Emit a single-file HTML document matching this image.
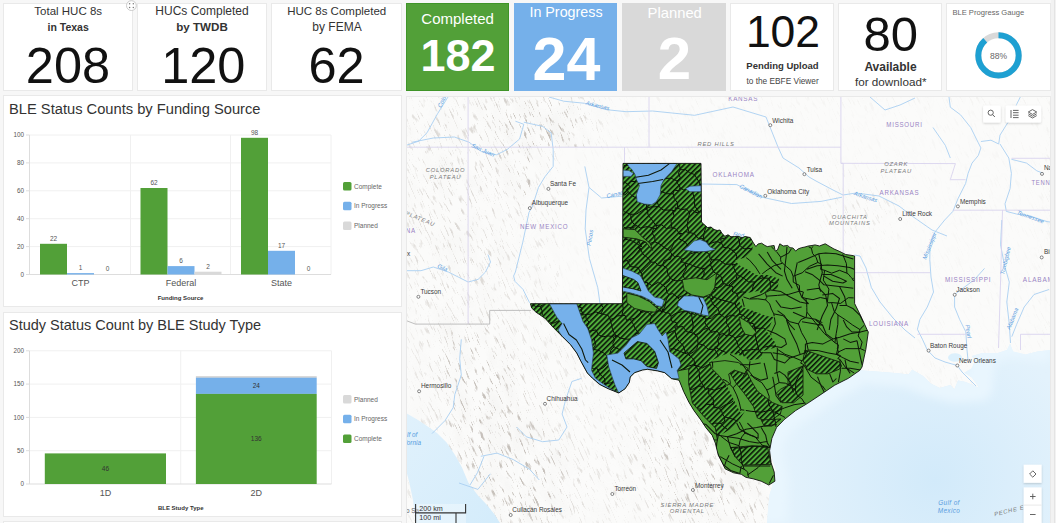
<!DOCTYPE html>
<html><head><meta charset="utf-8"><title>BLE Dashboard</title>
<style>
html,body{margin:0;padding:0;background:#f7f7f7;width:1056px;height:523px;overflow:hidden;font-family:"Liberation Sans",sans-serif;}
svg{display:block;position:absolute;left:0;top:0}
svg text{font-family:"Liberation Sans",sans-serif;}
</style></head><body>
<svg width="1056" height="523" viewBox="0 0 1056 523">
<defs>
<pattern id="hatch" patternUnits="userSpaceOnUse" width="3.7" height="3.7" patternTransform="rotate(45)">
<rect width="3.7" height="3.7" fill="#4fac3a"/>
<rect x="0" y="0" width="1.6" height="3.7" fill="#0a1608"/>
</pattern>
<clipPath id="mapclip"><rect x="406" y="97" width="644" height="426"/></clipPath>
</defs>
<rect x="0" y="0" width="1056" height="523" fill="#f7f7f7"/>

<!-- ========== TOP ROW ========== -->
<g id="top">
<rect x="3.5" y="3.5" width="129" height="87" fill="#fff" stroke="#e9e9e9"/>
<rect x="137.5" y="3.5" width="129" height="87" fill="#fff" stroke="#e9e9e9"/>
<rect x="271.5" y="3.5" width="130" height="87" fill="#fff" stroke="#e9e9e9"/>
<rect x="406" y="3" width="103" height="88" fill="#52a038"/>
<rect x="406.5" y="3.5" width="102" height="87" fill="none" stroke="#3f9428"/>
<rect x="514" y="3" width="103" height="88" fill="#75b0ea"/>
<rect x="622" y="3" width="104" height="88" fill="#d9d9d9"/>
<rect x="730.5" y="3.5" width="103" height="87" fill="#fff" stroke="#e9e9e9"/>
<rect x="838.5" y="3.5" width="103" height="87" fill="#fff" stroke="#e9e9e9"/>
<rect x="946.5" y="3.5" width="104" height="87" fill="#fff" stroke="#e9e9e9"/>

<g fill="#333" text-anchor="middle">
<text x="68.2" y="14.8" font-size="11.5">Total HUC 8s</text>
<text x="68.2" y="30.6" font-size="10.5" font-weight="bold">in Texas</text>
<text x="68" y="83" font-size="50.5" fill="#111">208</text>
<text x="202" y="14.8" font-size="12">HUCs Completed</text>
<text x="202" y="30.6" font-size="11.6" font-weight="bold">by TWDB</text>
<text x="203.3" y="83" font-size="50.5" fill="#111">120</text>
<text x="336.7" y="14.8" font-size="11.5">HUC 8s Completed</text>
<text x="337" y="30.6" font-size="12">by FEMA</text>
<text x="336.5" y="83" font-size="50.5" fill="#111">62</text>
</g>
<g fill="#fff" text-anchor="middle">
<text x="457.6" y="24" font-size="15">Completed</text>
<text x="458" y="71" font-size="45" font-weight="bold">182</text>
<text x="566" y="17" font-size="14.3">In Progress</text>
<text x="566.5" y="79.8" font-size="61" font-weight="bold">24</text>
<text x="674.7" y="17.8" font-size="14.8">Planned</text>
<text x="674.5" y="79" font-size="60" font-weight="bold">2</text>
</g>
<g fill="#111" text-anchor="middle">
<text x="783" y="47.3" font-size="44.5">102</text>
<text x="782.5" y="68.8" font-size="9.5" font-weight="bold" fill="#333">Pending Upload</text>
<text x="782.6" y="83.5" font-size="8.3" fill="#444">to the EBFE Viewer</text>
<text x="890.7" y="50.6" font-size="49">80</text>
<text x="890.5" y="70.9" font-size="12" font-weight="bold" fill="#333">Available</text>
<text x="890.7" y="85.5" font-size="11.7" fill="#333">for download*</text>
</g>
<text x="952.4" y="14.6" font-size="7.6" fill="#666">BLE Progress Gauge</text>
<circle cx="998.5" cy="55.4" r="20.2" fill="none" stroke="#d9d9d9" stroke-width="6"/>
<circle cx="998.5" cy="55.4" r="20.2" fill="none" stroke="#1ea0d2" stroke-width="6" stroke-dasharray="111.7 200" transform="rotate(-90 998.5 55.4)"/>
<text x="998.5" y="58.6" font-size="8.5" fill="#666" text-anchor="middle">88%</text>
<!-- small move icon -->
<circle cx="131.4" cy="5.6" r="4.9" fill="#fff" stroke="#c4c4c4" stroke-width="0.9"/><g fill="#7a7a7a"><circle cx="129.6" cy="3.8" r="0.75"/><circle cx="133.3" cy="3.8" r="0.75"/><circle cx="129.6" cy="7.4" r="0.75"/><circle cx="133.3" cy="7.4" r="0.75"/></g>
</g>

<!-- ========== CHART 1 ========== -->
<g id="chart1">
<rect x="3.5" y="95.5" width="398" height="211" fill="#fff" stroke="#e9e9e9"/>
<text x="9" y="114.2" font-size="14.7" fill="#333">BLE Status Counts by Funding Source</text>
<g stroke="#f0f0f0" stroke-width="1">
<line x1="29.5" y1="135" x2="331" y2="135"/>
<line x1="29.5" y1="162.9" x2="331" y2="162.9"/>
<line x1="29.5" y1="190.8" x2="331" y2="190.8"/>
<line x1="29.5" y1="218.7" x2="331" y2="218.7"/>
<line x1="29.5" y1="246.6" x2="331" y2="246.6"/>
<line x1="130.5" y1="135" x2="130.5" y2="274.5"/>
<line x1="230.5" y1="135" x2="230.5" y2="274.5"/>
<line x1="331" y1="135" x2="331" y2="274.5"/>
</g>
<g stroke="#ddd" stroke-width="1">
<line x1="29.5" y1="135" x2="29.5" y2="274.5"/>
<line x1="26" y1="274.5" x2="331" y2="274.5"/>
<line x1="26" y1="135" x2="29.5" y2="135"/>
<line x1="26" y1="162.9" x2="29.5" y2="162.9"/>
<line x1="26" y1="190.8" x2="29.5" y2="190.8"/>
<line x1="26" y1="218.7" x2="29.5" y2="218.7"/>
<line x1="26" y1="246.6" x2="29.5" y2="246.6"/>
</g>
<g font-size="6.3" fill="#555" text-anchor="end">
<text x="24" y="137">100</text>
<text x="24" y="165">80</text>
<text x="24" y="193">60</text>
<text x="24" y="221">40</text>
<text x="24" y="249">20</text>
<text x="24" y="277">0</text>
</g>
<g>
<rect x="40" y="243.8" width="27" height="30.7" fill="#52a038"/>
<rect x="67" y="273.1" width="27" height="1.4" fill="#75b0ea"/>
<rect x="140.5" y="188" width="27" height="86.5" fill="#52a038"/>
<rect x="167.5" y="266.1" width="27" height="8.4" fill="#75b0ea"/>
<rect x="194.5" y="271.7" width="27" height="2.8" fill="#d9d9d9"/>
<rect x="241" y="137.8" width="27" height="136.7" fill="#52a038"/>
<rect x="268" y="250.8" width="27" height="23.7" fill="#75b0ea"/>
</g>
<g font-size="6.5" fill="#555" text-anchor="middle">
<text x="53.5" y="240.8">22</text>
<text x="80.5" y="270">1</text>
<text x="107.5" y="270.5">0</text>
<text x="154" y="185">62</text>
<text x="181" y="263">6</text>
<text x="208" y="269">2</text>
<text x="254.5" y="134.8">98</text>
<text x="281.5" y="248">17</text>
<text x="308.5" y="270.5">0</text>
</g>
<g font-size="9" fill="#555" text-anchor="middle">
<text x="80.5" y="286.2">CTP</text>
<text x="181" y="286.2">Federal</text>
<text x="281.5" y="286.2">State</text>
</g>
<text x="180.5" y="299.5" font-size="6" font-weight="bold" fill="#333" text-anchor="middle">Funding Source</text>
<rect x="343" y="182" width="8.5" height="8.5" rx="1.5" fill="#52a038"/>
<rect x="343" y="201.8" width="8.5" height="8.5" rx="1.5" fill="#75b0ea"/>
<rect x="343" y="221.5" width="8.5" height="8.5" rx="1.5" fill="#d9d9d9"/>
<g font-size="6.5" fill="#666">
<text x="354" y="188.6">Complete</text>
<text x="354" y="208.4">In Progress</text>
<text x="354" y="228.1">Planned</text>
</g>
</g>

<!-- ========== CHART 2 ========== -->
<g id="chart2">
<rect x="3.5" y="312.5" width="398" height="204" fill="#fff" stroke="#e9e9e9"/>
<rect x="3.5" y="521.5" width="398" height="10" fill="#fff" stroke="#e9e9e9"/>
<text x="9" y="330" font-size="14.5" fill="#333">Study Status Count by BLE Study Type</text>
<g stroke="#f0f0f0" stroke-width="1">
<line x1="29.5" y1="350.8" x2="331.5" y2="350.8"/>
<line x1="29.5" y1="384.1" x2="331.5" y2="384.1"/>
<line x1="29.5" y1="417.4" x2="331.5" y2="417.4"/>
<line x1="29.5" y1="450.7" x2="331.5" y2="450.7"/>
<line x1="180.7" y1="350.8" x2="180.7" y2="484"/>
<line x1="331.5" y1="350.8" x2="331.5" y2="484"/>
</g>
<g stroke="#ddd" stroke-width="1">
<line x1="29.5" y1="350.8" x2="29.5" y2="484"/>
<line x1="26" y1="484" x2="331.5" y2="484"/>
<line x1="26" y1="350.8" x2="29.5" y2="350.8"/>
<line x1="26" y1="384.1" x2="29.5" y2="384.1"/>
<line x1="26" y1="417.4" x2="29.5" y2="417.4"/>
<line x1="26" y1="450.7" x2="29.5" y2="450.7"/>
</g>
<g font-size="6.3" fill="#555" text-anchor="end">
<text x="24" y="353">200</text>
<text x="24" y="386.3">150</text>
<text x="24" y="419.6">100</text>
<text x="24" y="452.9">50</text>
<text x="24" y="486.2">0</text>
</g>
<rect x="44.8" y="453.4" width="121.2" height="30.6" fill="#52a038"/>
<rect x="195.9" y="376" width="120.8" height="2" fill="#d9d9d9"/>
<rect x="195.9" y="377.7" width="120.8" height="16.2" fill="#75b0ea"/>
<rect x="195.9" y="393.9" width="120.8" height="90.1" fill="#52a038"/>
<g font-size="6.5" fill="#333" text-anchor="middle">
<text x="105.4" y="470.8">46</text>
<text x="256.3" y="440.8">136</text>
<text x="256.3" y="387.6">24</text>
</g>
<g font-size="9" fill="#555" text-anchor="middle">
<text x="105.4" y="495.7">1D</text>
<text x="256.3" y="495.7">2D</text>
</g>
<text x="180.7" y="509.5" font-size="6" font-weight="bold" fill="#333" text-anchor="middle">BLE Study Type</text>
<rect x="343" y="395" width="8.5" height="8.5" rx="1.5" fill="#d9d9d9"/>
<rect x="343" y="414.8" width="8.5" height="8.5" rx="1.5" fill="#75b0ea"/>
<rect x="343" y="434.6" width="8.5" height="8.5" rx="1.5" fill="#52a038"/>
<g font-size="6.5" fill="#666">
<text x="354" y="401.6">Planned</text>
<text x="354" y="421.4">In Progress</text>
<text x="354" y="441.2">Complete</text>
</g>
</g>

<!-- ========== MAP ========== -->
<g id="map" clip-path="url(#mapclip)">
<rect x="406" y="97" width="644" height="426" fill="#f6f6f4"/>
<defs>
<radialGradient id="gulfg" cx="935" cy="480" r="150" gradientUnits="userSpaceOnUse">
<stop offset="0" stop-color="#d2eafa"/><stop offset="1" stop-color="#e3f2fc"/></radialGradient>
<linearGradient id="gcalg" x1="0" y1="0" x2="1" y2="1"><stop offset="0" stop-color="#e0f1fc"/><stop offset="1" stop-color="#d4ecfb"/></linearGradient>
<filter id="terr" x="-400" y="-400" width="2200" height="1400" filterUnits="userSpaceOnUse">
<feTurbulence type="fractalNoise" baseFrequency="0.6 0.085" numOctaves="3" seed="11" result="n"/>
<feColorMatrix in="n" type="matrix" values="0 0 0 0 0.48  0 0 0 0 0.44  0 0 0 0 0.40  0 0 0 -6.0 2.55"/>
</filter>
<filter id="terrA" x="-400" y="-400" width="2200" height="1400" filterUnits="userSpaceOnUse">
<feTurbulence type="fractalNoise" baseFrequency="0.06 0.03" numOctaves="2" seed="4" result="n"/>
<feColorMatrix in="n" type="matrix" values="0 0 0 0 0.55  0 0 0 0 0.53  0 0 0 0 0.50  0 0 0 -1.2 0.75"/>
</filter>
<filter id="blur8"><feGaussianBlur stdDeviation="12"/></filter>
<filter id="blur4"><feGaussianBlur stdDeviation="4"/></filter>
<clipPath id="gulfclip"><polygon points="850,368 859.9,370.3 879.3,371.7 895,373 908.5,374.6 912.2,369.8 923,375.9 930.6,383.5 939.8,388.1 950.5,385 954.3,389.6 958.1,380.5 965.7,382 979.5,388.1 971.9,377.4 964.2,372.8 971.9,368.2 974.9,360.6 971.9,356 982.6,352.9 997.9,352.9 1007,349.9 1010,343.8 1013,351.4 1025.4,354.5 1037.6,351.4 1051,349.9 1051,523 767,523 768.5,505 769.5,495 772,487 776,470 766,440 780,410 850,370"/></clipPath>
<mask id="terrmask" maskUnits="userSpaceOnUse" x="406" y="97" width="644" height="426">
<rect x="406" y="97" width="644" height="426" fill="#222"/>
<g filter="url(#blur8)">
<polygon points="406,97 480,97 500,150 520,300 406,300" fill="#707070"/>
<polygon points="485,97 585,97 580,150 570,210 525,215 505,150" fill="#d8d8d8"/>
<polygon points="590,97 700,97 700,147 600,147" fill="#151515"/>
<polygon points="406,300 640,300 700,390 770,480 770,523 406,523" fill="#484848"/>
<polygon points="440,330 490,330 560,460 565,523 480,523 450,420" fill="#c8c8c8"/>
<polygon points="640,430 700,430 760,500 760,523 670,523" fill="#b0b0b0"/>
<polygon points="700,97 1050,97 1050,370 860,370 860,250 700,250" fill="#101010"/>
<ellipse cx="860" cy="205" rx="35" ry="25" fill="#444"/>
</g>
<rect x="560" y="147" width="62" height="156" fill="#101010"/>
<rect x="530" y="147" width="30" height="156" fill="#404040"/>
</mask>
</defs>
<rect x="406" y="97" width="644" height="426" fill="#fbfbfa"/>
<g mask="url(#terrmask)"><g transform="rotate(-24 700 300)"><rect x="-200" y="-300" width="1800" height="1200" filter="url(#terrA)" opacity="0.22"/><rect x="-200" y="-300" width="1800" height="1200" filter="url(#terr)"/></g></g>
<polygon points="850.0,368.0 859.9,370.3 879.3,371.7 895.0,373.0 908.5,374.6 912.2,369.8 923.0,375.9 930.6,383.5 939.8,388.1 950.5,385.0 954.3,389.6 958.1,380.5 965.7,382.0 979.5,388.1 971.9,377.4 964.2,372.8 971.9,368.2 974.9,360.6 971.9,356.0 982.6,352.9 997.9,352.9 1007.0,349.9 1010.0,343.8 1013.0,351.4 1025.4,354.5 1037.6,351.4 1051.0,349.9 1051.0,523.0 767.0,523.0 768.5,505.0 769.5,495.0 772.0,487.0 776.0,470.0 766.0,440.0 780.0,410.0 850.0,370.0" fill="url(#gulfg)"/>
<g clip-path="url(#gulfclip)"><polyline points="774.0,523.0 775.0,481.0 771.0,463.0 769.6,450.6 771.9,438.3 776.5,427.6 784.2,419.6 795.7,410.5 807.2,403.6 821.0,394.4 834.7,385.2 848.4,378.3 859.9,370.3 879.3,371.7 908.5,374.6 930.6,383.5 954.3,389.6 979.5,388.1 982.6,352.9 1010.0,343.8 1051.0,349.9" fill="none" stroke="#e9f6fe" stroke-width="26" stroke-linejoin="round" filter="url(#blur4)"/></g>
<polygon points="406.0,413.0 418.0,420.0 430.0,428.0 437.0,433.0 446.6,442.5 455.0,455.0 462.0,467.5 468.5,483.0 478.0,495.6 487.0,505.0 495.0,515.0 500.0,523.0 416.0,523.0 413.0,500.0 409.4,483.0 406.0,470.0" fill="url(#gcalg)"/>
<ellipse cx="955" cy="357.5" rx="7" ry="4.3" fill="#dcf0fc"/>
<g fill="none" stroke="#a9cff2" stroke-width="0.9" stroke-linejoin="round">
<polyline points="448.0,97.0 437.5,113.8 427.0,132.8 418.6,141.2 406.0,145.4"/>
<polyline points="412.3,142.2 433.3,138.0 454.4,137.0 469.0,142.2 481.7,151.7 496.4,154.8 507.0,149.6 519.6,139.0 523.8,124.3 515.4,121.2"/>
<polyline points="523.8,122.2 542.7,126.4 551.1,132.8 553.2,149.6 553.2,166.4 544.8,176.9 538.5,187.4 532.2,207.0 529.0,212.3 522.8,242.1 515.4,272.0 513.6,276.0 515.0,281.4 523.0,289.4 529.6,302.8"/>
<polyline points="549.0,97.0 563.7,101.2 584.8,103.3 605.8,109.6 626.0,111.7 652.5,111.0 694.6,115.3 733.0,107.0 766.0,117.0 778.0,147.0 783.0,158.0 799.0,168.0 809.0,177.0 816.0,181.0 833.0,190.0 843.0,195.0 856.0,193.0 879.0,196.0 899.0,206.0 912.0,216.0 932.0,230.0 947.0,236.0"/>
<polyline points="584.8,166.4 589.0,187.4 586.0,210.0 585.2,228.9 589.4,258.4 597.8,287.8 600.0,303.7"/>
<polyline points="589.0,187.4 601.6,198.0 626.0,195.8"/>
<polyline points="701.0,184.0 736.8,184.6 762.0,197.2 791.5,203.5 821.0,201.4 842.0,197.2"/>
<polyline points="406.0,270.7 421.0,270.7 433.3,267.0 448.3,272.0 458.2,277.0 468.1,282.0 478.1,279.4 485.5,272.0 490.5,262.0 488.0,254.6"/>
<polyline points="854.4,255.0 860.0,256.0 866.0,268.0 871.4,287.6 880.0,302.0 893.0,318.0 905.0,330.0 915.0,338.0"/>
<polyline points="949.0,97.0 950.3,107.2 960.5,114.8 970.7,127.5 978.3,142.8 980.9,147.9 978.3,155.5 972.0,163.1 968.1,173.3 965.6,183.5 958.0,198.7 952.9,211.4 944.7,220.0 935.0,232.0 930.0,245.0 929.8,259.7 931.0,277.0 933.5,292.0 927.3,307.0 919.9,319.4 917.4,329.3 922.4,339.2 927.3,350.0 935.0,358.0 945.0,362.0 957.3,365.5 962.0,372.0 970.0,380.0 976.0,386.0"/>
<polyline points="459.0,483.0 477.9,489.4 490.4,473.8"/>
<polyline points="980.9,141.5 991.0,140.2 998.7,144.0 1000.0,135.1 1006.3,125.0 1011.4,117.3 1016.5,104.6 1020.3,97.0"/>
<polyline points="1000.0,144.0 1008.8,158.0 1011.4,173.3 1010.1,188.6 1005.0,203.8 1006.3,211.4 1016.5,214.0 1031.7,216.5 1047.0,221.6 1050.0,222.0"/>
<polyline points="1011.4,159.3 1026.6,163.1 1036.8,170.8 1043.2,173.3"/>
<polyline points="933.0,127.5 945.3,145.3 950.3,158.0"/>
<polyline points="984.5,268.4 974.5,279.6 954.6,294.5 954.6,307.0 959.6,319.4 965.8,331.8 967.0,350.0 968.0,360.0"/>
<polyline points="1001.8,220.0 1000.6,244.8 1004.3,264.7 1009.3,282.1 1006.8,302.0 1009.3,324.3 1010.5,343.0"/>
<polyline points="1049.0,289.5 1034.0,294.5 1024.2,307.0 1016.7,324.3 1011.8,336.7"/>
<polyline points="461.3,339.3 459.7,358.8 461.3,375.0 454.8,394.6 453.2,407.6 445.0,420.6 432.0,433.6"/>
<polyline points="581.6,378.3 571.9,381.5 565.3,401.0 562.1,414.0 567.0,427.0 558.8,440.0 542.6,441.7 526.3,436.8 516.6,427.0"/>
<polyline points="480.8,456.3 497.0,453.1 513.3,459.6 529.6,469.3 539.3,480.0"/>
<polyline points="484.0,456.3 477.5,472.6 470.0,485.0"/>
<polyline points="870.0,97.0 885.0,110.0 900.0,105.0 915.0,98.0"/>
</g>
<g fill="none" stroke="#d9d4ee" stroke-width="0.9">
<polyline points="468.1,97.0 468.1,324.1"/>
<polyline points="406.0,147.2 624.5,147.2"/>
<polyline points="624.5,147.2 840.9,147.2"/>
<polyline points="624.5,147.2 624.5,163.4"/>
<polyline points="840.9,97.0 840.9,163.3 843.2,163.3 843.2,253.0"/>
<polyline points="840.9,163.3 955.4,163.6 950.3,179.7 965.6,179.7"/>
<polyline points="854.6,272.7 930.0,272.7"/>
<polyline points="952.9,210.2 1050.0,210.2"/>
<polyline points="1002.5,210.2 1000.6,280.0 998.5,348.0"/>
<polyline points="1011.6,158.3 1050.0,158.3"/>
<polyline points="917.4,334.3 965.8,334.3"/>
<polyline points="1020.5,334.3 1050.0,334.3"/>
<polyline points="1020.5,334.3 1020.5,350.0"/>
<polyline points="649.0,97.0 649.0,147.2"/>
</g>
<polyline points="406.0,320.5 415.4,324.1 489.7,324.1 489.7,310.4 531.0,310.4" fill="none" stroke="#b8b8b8" stroke-width="0.9"/>
<g font-size="7.2" fill="#9a84c4" letter-spacing="0.9">
<text x="728.2" y="100.5" textLength="30" lengthAdjust="spacingAndGlyphs">KANSAS</text>
<text x="712.6" y="177.2" textLength="42.1" lengthAdjust="spacingAndGlyphs">OKLAHOMA</text>
<text x="886.3" y="126.8" textLength="36.4" lengthAdjust="spacingAndGlyphs">MISSOURI</text>
<text x="879.6" y="195.4" textLength="39.8" lengthAdjust="spacingAndGlyphs">ARKANSAS</text>
<text x="520" y="229.3" textLength="48.4" lengthAdjust="spacingAndGlyphs">NEW MEXICO</text>
<text x="868.9" y="325.9" textLength="40" lengthAdjust="spacingAndGlyphs">LOUISIANA</text>
<text x="945" y="282.2" textLength="46.2" lengthAdjust="spacingAndGlyphs">MISSISSIPPI</text>
<text x="1022.8" y="282.2" textLength="36" lengthAdjust="spacingAndGlyphs">ALABAMA</text>
<text x="1031.5" y="184.8" textLength="42" lengthAdjust="spacingAndGlyphs">TENNESSEE</text>
<text x="383" y="232.7" textLength="33" lengthAdjust="spacingAndGlyphs">ARIZONA</text>
</g>
<g font-size="5.8" fill="#7a7a7a" font-style="italic" text-anchor="middle" letter-spacing="0.8">
<text x="445.5" y="172.2">COLORADO</text>
<text x="445.5" y="178.7">PLATEAU</text>
<text x="896.2" y="166.3">OZARK</text>
<text x="896.2" y="172.9">PLATEAU</text>
<text x="849.8" y="218.6">OUACHITA</text>
<text x="849.8" y="225.3">MOUNTAINS</text>
<text x="687.3" y="507.2">SIERRA MADRE</text>
<text x="687.3" y="513.4">ORIENTAL</text>
<text x="0" y="0" transform="translate(408,216) rotate(22)">CISCO PLATEAU</text>
<text x="716" y="145.7">RED HILLS</text>
<text x="0" y="0" transform="translate(1012,512) rotate(-14)">PECHE ES</text>
</g>
<g font-size="6.4" fill="#3a3a3a">
<text x="772.3" y="122.5">Wichita</text>
<text x="806.7" y="171.9">Tulsa</text>
<text x="767.3" y="193.8">Oklahoma City</text>
<text x="902.2" y="216.3">Little Rock</text>
<text x="959.9" y="203.7">Memphis</text>
<text x="1044" y="170">Nashville</text>
<text x="550" y="186.4">Santa Fe</text>
<text x="531.8" y="205.3">Albuquerque</text>
<text x="420.4" y="294.3">Tucson</text>
<text x="387" y="255.8">Phoenix</text>
<text x="421" y="387.8">Hermosillo</text>
<text x="546.6" y="401.3">Chihuahua</text>
<text x="614.4" y="491.3">Torreón</text>
<text x="695" y="487.8">Monterrey</text>
<text x="512.3" y="511.9">Culiacán Rosales</text>
<text x="930" y="348.3">Baton Rouge</text>
<text x="958.9" y="362.5">New Orleans</text>
<text x="956.3" y="291.8">Jackson</text>
<text x="1044" y="254">Birmingham</text>
<text x="406" y="512.9" fill="#666">o Sa</text>
</g>
<g fill="#fff" stroke="#555" stroke-width="0.7">
<circle cx="770.3" cy="125.2" r="1.5"/>
<circle cx="804.4" cy="174.2" r="1.5"/>
<circle cx="765.3" cy="195.8" r="1.5"/>
<circle cx="900.2" cy="219" r="1.5"/>
<circle cx="957.9" cy="206.4" r="1.5"/>
<circle cx="1042" cy="173.9" r="1.5"/>
<circle cx="548.4" cy="188.9" r="1.5"/>
<circle cx="529.8" cy="208.1" r="1.5"/>
<circle cx="418.4" cy="296.8" r="1.5"/>
<circle cx="385" cy="258" r="1.5"/>
<circle cx="419.1" cy="391.3" r="1.5"/>
<circle cx="545" cy="403.8" r="1.5"/>
<circle cx="612.3" cy="494" r="1.5"/>
<circle cx="692.9" cy="490" r="1.5"/>
<circle cx="510.7" cy="515" r="1.5"/>
<circle cx="928.6" cy="350.6" r="1.5"/>
<circle cx="957.3" cy="365.5" r="1.5"/>
<circle cx="954.7" cy="294.8" r="1.5"/>
<circle cx="1041.7" cy="257.4" r="1.5"/>
</g>
<g font-size="5.8" fill="#5a9de0" font-style="italic">
<text transform="translate(585.5,104.5) rotate(14)">Arkansas</text>
<text transform="translate(471,147) rotate(24)">San Juan</text>
<text transform="translate(441,108) rotate(-64)">Colorado</text>
<text transform="translate(607,198) rotate(-12)">Canadian</text>
<text transform="translate(590.5,246) rotate(-80)">Pecos</text>
<text transform="translate(437,267.5) rotate(22)">Gila</text>
<text transform="translate(739,187.5) rotate(27)">Canadian</text>
<text transform="translate(853.5,195) rotate(18)">Arkansas</text>
<text transform="translate(733,235.5) rotate(12)">Red</text>
<text transform="translate(926,260) rotate(-68)">Mississippi</text>
<text transform="translate(1016.5,214) rotate(20)">Tennessee</text>
<text transform="translate(1004,275) rotate(-76)">Tombigbee</text>
<text transform="translate(965.5,325) rotate(82)">Pearl</text>
<text transform="translate(1010,330) rotate(-68)">Alabama</text>
<text x="407" y="436.5" font-size="6.4">lf of</text>
<text x="405" y="445.4" font-size="6.4">fornia</text>
<text x="949" y="504.7" font-size="6.4" text-anchor="middle" letter-spacing="0.4">Gulf of</text>
<text x="949" y="513.2" font-size="6.4" text-anchor="middle" letter-spacing="0.4">Mexico</text>
</g>
<defs><clipPath id="txclip"><polygon points="623.0,163.4 701.0,163.4 701.5,222.0 704.0,224.5 707.6,227.6 711.0,227.0 714.0,229.5 717.2,230.5 720.0,230.0 722.0,233.5 724.9,236.3 728.0,234.8 731.0,236.8 734.7,236.5 738.2,236.3 742.0,237.8 745.0,236.5 750.2,237.5 753.6,243.2 755.9,246.6 758.0,244.0 761.6,243.2 765.0,245.5 767.3,246.6 770.7,246.0 774.1,245.5 775.2,251.1 777.5,250.0 779.8,243.8 783.2,246.0 787.7,245.5 790.0,247.7 793.0,248.0 795.7,251.1 798.0,249.0 801.4,247.7 805.0,247.0 808.2,246.0 812.0,245.5 815.0,244.9 819.5,246.0 822.0,245.0 825.2,243.8 830.9,247.2 834.0,249.0 838.9,251.1 845.7,254.5 853.6,255.7 854.6,256.0 854.6,303.5 860.8,316.0 867.0,329.6 868.3,332.0 865.8,349.5 862.0,367.0 859.9,370.3 848.4,378.3 834.7,385.2 821.0,394.4 807.2,403.6 795.7,410.5 784.2,419.6 776.5,427.6 771.9,438.3 769.6,450.6 771.1,462.8 774.2,472.0 774.9,481.2 768.8,485.0 761.2,481.2 753.5,478.9 745.9,477.3 741.3,474.3 733.6,472.8 725.2,468.9 722.2,462.8 718.3,455.2 715.3,443.0 712.2,435.3 706.0,427.8 700.9,420.0 694.0,410.6 688.8,402.0 683.7,391.6 679.1,380.2 671.6,378.7 664.7,372.7 657.9,371.0 647.5,369.3 642.4,370.1 634.6,372.7 630.3,377.0 629.3,382.5 625.1,388.8 618.8,393.0 608.3,388.8 599.9,384.6 592.5,378.3 587.3,373.0 581.0,361.5 576.7,353.0 570.4,344.6 562.0,336.2 553.6,327.8 545.2,318.4 535.8,312.0 531.6,307.9 530.5,303.7 622.4,303.7"/></clipPath></defs>
<polygon points="623.0,163.4 701.0,163.4 701.5,222.0 704.0,224.5 707.6,227.6 711.0,227.0 714.0,229.5 717.2,230.5 720.0,230.0 722.0,233.5 724.9,236.3 728.0,234.8 731.0,236.8 734.7,236.5 738.2,236.3 742.0,237.8 745.0,236.5 750.2,237.5 753.6,243.2 755.9,246.6 758.0,244.0 761.6,243.2 765.0,245.5 767.3,246.6 770.7,246.0 774.1,245.5 775.2,251.1 777.5,250.0 779.8,243.8 783.2,246.0 787.7,245.5 790.0,247.7 793.0,248.0 795.7,251.1 798.0,249.0 801.4,247.7 805.0,247.0 808.2,246.0 812.0,245.5 815.0,244.9 819.5,246.0 822.0,245.0 825.2,243.8 830.9,247.2 834.0,249.0 838.9,251.1 845.7,254.5 853.6,255.7 854.6,256.0 854.6,303.5 860.8,316.0 867.0,329.6 868.3,332.0 865.8,349.5 862.0,367.0 859.9,370.3 848.4,378.3 834.7,385.2 821.0,394.4 807.2,403.6 795.7,410.5 784.2,419.6 776.5,427.6 771.9,438.3 769.6,450.6 771.1,462.8 774.2,472.0 774.9,481.2 768.8,485.0 761.2,481.2 753.5,478.9 745.9,477.3 741.3,474.3 733.6,472.8 725.2,468.9 722.2,462.8 718.3,455.2 715.3,443.0 712.2,435.3 706.0,427.8 700.9,420.0 694.0,410.6 688.8,402.0 683.7,391.6 679.1,380.2 671.6,378.7 664.7,372.7 657.9,371.0 647.5,369.3 642.4,370.1 634.6,372.7 630.3,377.0 629.3,382.5 625.1,388.8 618.8,393.0 608.3,388.8 599.9,384.6 592.5,378.3 587.3,373.0 581.0,361.5 576.7,353.0 570.4,344.6 562.0,336.2 553.6,327.8 545.2,318.4 535.8,312.0 531.6,307.9 530.5,303.7 622.4,303.7" fill="#52a038"/>
<g clip-path="url(#txclip)">
<polygon points="500.0,150.0 752.0,150.0 752.5,250.0 744.9,257.6 735.3,260.5 739.1,265.3 746.8,269.1 756.3,274.9 767.8,274.9 779.3,278.7 777.4,289.2 767.8,291.1 762.1,294.0 758.2,291.1 746.8,293.0 742.9,295.9 739.1,301.6 742.9,307.4 754.4,311.2 765.9,316.0 773.5,316.9 769.7,326.5 765.9,330.3 774.6,341.5 776.5,347.2 763.1,351.0 761.2,358.7 747.8,360.6 745.9,356.8 728.7,353.0 719.1,356.8 711.5,360.6 711.5,368.0 719.0,376.0 727.0,386.0 740.3,412.7 745.0,411.0 738.0,422.0 730.6,429.2 719.9,435.3 713.0,440.0 500.0,440.0" fill="url(#hatch)"/>
<g fill="none" stroke="#0b1408" stroke-width="1.0" stroke-linejoin="round">
<polyline points="646.8,164.4 648.5,165.0 655.4,165.2"/>
<polyline points="656.1,164.4 655.4,165.2"/>
<polyline points="540.3,306.2 542.7,304.7"/>
<polyline points="540.3,306.2 535.8,306.5 532.4,304.7"/>
<polyline points="677.5,208.2 675.4,207.7 675.0,211.4 672.6,210.1"/>
<polyline points="677.5,208.2 677.7,202.9 674.3,198.7 673.1,193.7"/>
<polyline points="673.1,193.7 666.8,193.8 661.5,191.5 656.6,187.2"/>
<polyline points="672.6,210.1 667.8,210.1 663.0,210.0 658.9,206.5"/>
<polyline points="658.9,206.5 656.5,200.3 655.3,194.0 656.6,187.2"/>
<polyline points="586.0,368.6 587.8,367.4 592.2,368.2"/>
<polyline points="592.2,368.2 588.0,362.6 590.2,354.9 585.9,349.1"/>
<polyline points="577.6,352.6 581.7,352.0 585.9,349.1"/>
<polyline points="608.7,358.2 609.2,358.9 608.2,360.4 609.9,360.4"/>
<polyline points="608.7,358.2 604.4,353.4 599.0,350.5 592.5,349.1"/>
<polyline points="609.9,360.4 606.6,364.5 602.8,368.0 597.7,369.9"/>
<polyline points="592.5,349.1 590.6,348.3 588.5,349.1 586.5,348.7"/>
<polyline points="597.7,369.9 596.4,367.6 594.0,369.0 592.2,368.2"/>
<polyline points="586.5,348.7 587.3,350.2 586.5,349.5 585.9,349.1"/>
<polyline points="727.5,429.8 727.4,429.3 723.6,426.8 721.1,423.4"/>
<polyline points="705.0,424.4 707.8,425.4 714.4,423.1 721.1,423.4"/>
<polyline points="681.6,259.0 686.7,257.6 690.6,253.9 695.6,252.0"/>
<polyline points="681.6,259.0 678.8,256.3 674.4,256.8 671.7,253.8"/>
<polyline points="695.6,252.0 689.5,248.1 685.2,242.0 678.6,238.5"/>
<polyline points="671.7,253.8 670.8,252.9 670.6,251.7 670.0,250.6"/>
<polyline points="670.0,250.6 672.5,246.4 674.0,241.5 678.6,238.5"/>
<polyline points="677.5,208.2 681.5,209.7 686.3,208.9 689.7,212.5"/>
<polyline points="672.6,210.1 674.1,216.0 671.0,221.7 671.9,227.7"/>
<polyline points="689.7,212.5 688.3,219.1 687.0,225.7 689.2,232.5"/>
<polyline points="689.2,232.5 685.6,231.6 682.4,233.6 678.8,233.4"/>
<polyline points="671.9,227.7 675.1,228.5 677.4,230.4 678.8,233.4"/>
<polyline points="619.8,366.9 622.0,371.0 619.7,376.1 622.7,380.1"/>
<polyline points="619.8,366.9 616.4,365.1 613.4,362.5 609.9,360.4"/>
<polyline points="597.7,369.9 600.1,374.5 604.3,378.0 605.2,383.6"/>
<polyline points="605.2,383.6 611.1,382.9 616.3,378.8 622.7,380.1"/>
<polyline points="628.6,365.3 625.8,366.6 622.6,365.6 619.8,366.9"/>
<polyline points="628.6,365.3 633.5,368.1 637.3,370.8"/>
<polyline points="622.7,380.1 624.4,382.8 626.8,384.4"/>
<polyline points="587.0,326.4 589.3,331.2 596.0,329.9 598.4,334.8"/>
<polyline points="587.0,326.4 589.0,322.2 586.1,318.5 585.8,314.5"/>
<polyline points="598.4,334.8 603.0,336.8 607.9,335.9 612.8,336.5"/>
<polyline points="585.8,314.5 590.8,314.1 595.9,311.9 601.2,313.8"/>
<polyline points="601.2,313.8 604.7,314.6 608.3,315.5 610.0,319.4"/>
<polyline points="610.0,319.4 611.5,324.5 612.6,329.7 615.1,334.7"/>
<polyline points="612.8,336.5 613.3,335.5 615.6,336.8 615.1,334.7"/>
<polyline points="598.4,334.8 594.3,338.7 595.7,344.7 592.5,349.1"/>
<polyline points="608.7,358.2 609.7,354.1 610.9,350.1 614.1,346.9"/>
<polyline points="612.8,336.5 614.7,339.7 612.8,343.5 614.1,346.9"/>
<polyline points="628.6,365.3 631.5,363.0 634.1,360.5 633.9,356.3"/>
<polyline points="614.1,346.9 620.6,350.1 627.4,352.6 633.9,356.3"/>
<polyline points="601.2,313.8 603.5,307.8 601.2,304.7"/>
<polyline points="610.0,319.4 613.9,318.3 617.5,315.9 621.8,315.6"/>
<polyline points="621.8,315.6 623.3,309.2 622.6,304.7"/>
<polyline points="647.3,282.5 644.7,282.6 643.5,280.8 642.3,278.8"/>
<polyline points="647.3,282.5 647.9,287.2 647.7,291.9 647.2,296.8"/>
<polyline points="647.2,296.8 641.4,297.3 635.4,296.5 629.6,298.7"/>
<polyline points="634.5,280.2 637.5,282.2 639.9,280.5 642.3,278.8"/>
<polyline points="634.5,280.2 631.6,286.0 631.4,292.5 629.6,298.7"/>
<polyline points="540.3,306.2 542.1,311.0 542.3,315.2"/>
<polyline points="565.0,337.8 567.4,337.1 572.5,336.0 576.9,332.8"/>
<polyline points="550.3,322.6 553.9,323.1 557.8,321.1 562.1,320.5"/>
<polyline points="562.1,320.5 567.5,323.6 572.1,327.6 577.0,331.7"/>
<polyline points="577.0,331.7 574.6,331.8 575.8,332.3 576.9,332.8"/>
<polyline points="586.5,348.7 584.0,343.1 579.9,338.4 576.9,332.8"/>
<polyline points="548.7,320.9 549.8,320.3 549.6,321.8"/>
<polyline points="587.0,326.4 584.4,329.6 581.4,331.9 577.0,331.7"/>
<polyline points="681.6,383.8 682.4,384.0 683.8,388.3 687.4,389.9"/>
<polyline points="688.4,398.9 687.4,394.7 687.4,389.9"/>
<polyline points="699.5,416.3 698.3,412.8 694.3,408.7"/>
<polyline points="719.5,408.7 721.7,411.1 722.5,414.2 724.4,416.9"/>
<polyline points="719.5,408.7 717.7,407.2 714.3,407.9 713.7,404.5"/>
<polyline points="721.1,423.4 723.8,422.1 724.8,419.9 724.4,416.9"/>
<polyline points="694.3,408.7 701.1,409.1 706.7,404.3 713.7,404.5"/>
<polyline points="658.7,174.9 664.3,178.5 671.0,178.2 677.0,181.0"/>
<polyline points="658.7,174.9 656.8,172.0 654.3,169.3 655.4,165.2"/>
<polyline points="678.6,164.4 679.6,165.5 680.3,169.7"/>
<polyline points="680.3,169.7 678.4,173.2 680.3,177.8 677.0,181.0"/>
<polyline points="673.1,193.7 673.9,190.0 678.5,190.8 680.0,187.8"/>
<polyline points="689.7,212.5 692.6,210.1 695.9,212.6 699.0,212.0"/>
<polyline points="699.0,212.0 694.7,206.0 694.4,198.8 692.5,191.8"/>
<polyline points="692.5,191.8 689.1,188.1 683.9,190.1 680.0,187.8"/>
<polyline points="658.7,174.9 655.0,177.3 655.2,181.5 654.1,185.2"/>
<polyline points="656.6,187.2 656.7,185.4 654.2,186.7 654.1,185.2"/>
<polyline points="680.0,187.8 679.3,185.4 677.3,183.6 677.0,181.0"/>
<polyline points="605.2,383.6 604.0,383.4 605.2,384.4 604.7,384.6"/>
<polyline points="603.2,385.1 604.7,384.6"/>
<polyline points="694.0,408.6 694.3,408.7"/>
<polyline points="621.8,315.6 625.2,315.5 626.4,320.3 630.2,319.4"/>
<polyline points="623.4,297.5 626.4,296.0 629.6,298.7"/>
<polyline points="629.6,298.7 634.9,302.1 637.8,307.4 641.2,312.5"/>
<polyline points="630.2,319.4 634.6,318.3 638.5,316.4 641.2,312.5"/>
<polyline points="647.2,296.8 650.1,303.2 655.9,306.8 661.3,311.0"/>
<polyline points="661.3,311.0 657.2,311.0 654.5,313.6 651.5,315.9"/>
<polyline points="651.5,315.9 648.8,312.8 645.5,311.4 641.2,312.5"/>
<polyline points="556.1,304.7 559.6,310.4 564.3,315.9"/>
<polyline points="575.2,304.7 579.7,307.1"/>
<polyline points="564.3,315.9 570.5,314.6 576.9,315.0 583.1,312.5"/>
<polyline points="583.1,312.5 581.2,311.2 582.2,308.1 579.7,307.1"/>
<polyline points="562.1,320.5 561.6,318.4 561.4,316.5 564.3,315.9"/>
<polyline points="580.5,304.7 579.7,307.1"/>
<polyline points="585.8,314.5 584.5,314.3 582.6,315.2 583.1,312.5"/>
<polyline points="633.6,164.4 633.7,164.6"/>
<polyline points="624.0,165.5 625.3,165.5 633.7,164.6"/>
<polyline points="654.1,185.2 653.5,187.6 653.5,185.0 653.3,185.1"/>
<polyline points="653.3,185.1 648.1,182.7 642.8,180.5 637.3,178.3"/>
<polyline points="633.7,164.6 633.5,169.5 637.3,173.3 637.3,178.3"/>
<polyline points="655.9,225.6 656.6,227.7 656.1,228.7 653.7,228.2"/>
<polyline points="655.9,225.6 652.2,220.2 648.1,215.0 646.9,208.1"/>
<polyline points="653.7,228.2 647.5,226.5 640.6,228.0 634.5,224.5"/>
<polyline points="646.9,208.1 645.8,209.9 646.1,208.7 646.3,207.8"/>
<polyline points="646.3,207.8 641.5,210.8 636.8,213.9 630.8,214.4"/>
<polyline points="630.8,214.4 630.9,218.2 631.7,221.6 634.5,224.5"/>
<polyline points="670.0,250.6 664.8,247.9 660.2,244.3 654.8,241.8"/>
<polyline points="671.9,227.7 666.4,228.5 661.5,224.7 655.9,225.6"/>
<polyline points="678.8,233.4 680.9,235.2 679.8,236.8 678.6,238.5"/>
<polyline points="654.8,241.8 654.9,237.3 652.0,233.0 653.7,228.2"/>
<polyline points="658.9,206.5 654.9,206.8 650.9,206.9 646.9,208.1"/>
<polyline points="654.8,241.8 650.2,243.3 645.0,242.1 640.6,244.9"/>
<polyline points="640.6,244.9 637.3,239.3 634.8,233.5 632.6,227.2"/>
<polyline points="632.6,227.2 634.5,227.2 635.1,226.3 634.5,224.5"/>
<polyline points="653.3,185.1 647.6,189.3 647.4,197.3 641.8,201.8"/>
<polyline points="641.8,201.8 643.0,204.0 646.8,204.2 646.3,207.8"/>
<polyline points="623.7,227.3 626.4,228.0 632.6,227.2"/>
<polyline points="623.8,211.4 624.9,212.0 627.8,213.1 630.8,214.4"/>
<polyline points="681.6,259.0 680.8,262.0 683.3,262.2 684.9,263.2"/>
<polyline points="695.6,252.0 699.4,253.4 703.6,250.5 707.4,253.0"/>
<polyline points="710.5,264.9 707.7,265.8 705.5,268.1 702.4,268.7"/>
<polyline points="710.5,264.9 711.4,263.3 710.4,261.2 712.0,259.8"/>
<polyline points="707.4,253.0 709.8,254.6 709.8,257.9 712.0,259.8"/>
<polyline points="684.9,263.2 690.8,264.7 696.4,267.2 702.4,268.7"/>
<polyline points="710.5,264.9 713.7,272.0 720.9,276.2 723.4,284.0"/>
<polyline points="723.4,284.0 721.1,286.8 717.8,287.3 714.4,287.7"/>
<polyline points="702.4,268.7 704.3,272.4 703.5,275.8 701.2,279.2"/>
<polyline points="714.4,287.7 711.0,283.5 704.7,283.6 701.2,279.2"/>
<polyline points="735.2,303.9 727.6,301.6 720.0,299.4 712.3,296.7"/>
<polyline points="735.2,303.9 736.5,307.4 739.8,310.0 739.6,314.3"/>
<polyline points="727.0,316.9 730.9,315.1 735.5,316.2 739.6,314.3"/>
<polyline points="727.0,316.9 724.1,317.5 722.1,315.5 719.9,314.1"/>
<polyline points="719.9,314.1 717.8,308.3 712.8,304.2 710.7,298.2"/>
<polyline points="712.3,296.7 713.1,298.7 712.9,299.5 710.7,298.2"/>
<polyline points="695.0,365.0 702.3,368.0 710.2,363.7 710.5,363.8"/>
<polyline points="695.0,365.0 699.2,371.4 699.6,379.4 703.7,386.2"/>
<polyline points="703.7,386.2 704.6,388.1 705.6,389.7 708.1,388.5"/>
<polyline points="708.1,388.5 714.6,390.2 720.7,387.9 726.1,386.5"/>
<polyline points="679.0,379.2 676.6,375.9 677.3,372.0"/>
<polyline points="694.4,364.5 688.3,366.1 682.8,368.8 677.3,372.0"/>
<polyline points="694.4,364.5 695.8,362.9 693.9,366.1 695.0,365.0"/>
<polyline points="687.4,389.9 692.9,389.1 697.9,386.2 703.7,386.2"/>
<polyline points="713.7,404.5 713.1,398.8 708.9,394.3 708.1,388.5"/>
<polyline points="719.5,408.7 725.0,405.0 731.2,402.6 733.3,400.8"/>
<polyline points="694.4,364.5 694.2,360.3 691.8,357.4 688.7,354.8"/>
<polyline points="717.7,356.4 717.6,354.1 714.5,349.2"/>
<polyline points="714.5,349.2 708.4,349.5 703.8,345.2 698.1,343.6"/>
<polyline points="688.7,354.8 693.1,352.2 696.8,349.0 698.1,343.6"/>
<polyline points="724.4,416.9 731.1,418.5 737.4,421.0"/>
<polyline points="765.4,329.4 763.7,328.1 755.4,328.4"/>
<polyline points="754.2,312.2 753.2,315.3 748.4,318.6"/>
<polyline points="748.4,318.6 749.1,322.5 753.8,323.9 754.7,327.9"/>
<polyline points="754.7,327.9 756.0,326.5 754.7,328.9 755.4,328.4"/>
<polyline points="727.0,316.9 726.4,322.9 729.6,328.5 728.8,334.7"/>
<polyline points="739.6,314.3 742.8,315.0 745.2,317.4 748.4,318.6"/>
<polyline points="734.8,338.1 733.1,336.4 730.9,335.7 728.8,334.7"/>
<polyline points="734.8,338.1 741.9,335.8 747.3,330.2 754.7,327.9"/>
<polyline points="700.1,170.7 699.0,170.8 696.4,171.8 694.5,174.5"/>
<polyline points="694.5,174.5 697.0,178.8 699.7,182.9 699.5,188.3"/>
<polyline points="699.5,188.3 700.2,188.4"/>
<polyline points="680.3,169.7 685.5,169.7 689.7,172.8 694.5,174.5"/>
<polyline points="692.5,191.8 693.9,188.9 698.0,191.2 699.5,188.3"/>
<polyline points="699.0,212.0 700.4,212.0"/>
<polyline points="689.2,232.5 694.3,233.6 697.8,238.2 703.3,238.7"/>
<polyline points="706.0,227.5 704.2,232.4 703.3,238.7"/>
<polyline points="707.4,253.0 706.2,250.2 707.6,247.4 707.7,244.6"/>
<polyline points="703.3,238.7 704.3,241.0 707.9,241.3 707.7,244.6"/>
<polyline points="604.7,384.6 605.0,386.0"/>
<polyline points="634.5,280.2 630.3,278.6 625.5,279.6 623.5,278.5"/>
<polyline points="615.1,334.7 620.9,338.3 627.2,339.2 634.1,339.0"/>
<polyline points="630.2,319.4 633.1,323.9 635.3,328.8 638.7,333.2"/>
<polyline points="634.1,339.0 637.5,338.6 635.3,333.7 638.7,333.2"/>
<polyline points="651.5,315.9 649.9,321.4 653.1,326.5 652.7,332.1"/>
<polyline points="638.7,333.2 643.4,334.0 648.0,332.5 652.7,332.1"/>
<polyline points="640.6,244.9 640.9,245.6 641.5,246.6 639.9,245.6"/>
<polyline points="623.7,239.0 624.7,239.0 632.5,241.1 639.9,245.6"/>
<polyline points="623.9,181.7 628.1,184.4"/>
<polyline points="628.4,191.9 625.1,194.9 623.9,194.9"/>
<polyline points="628.4,191.9 626.2,189.5 630.1,186.9 628.1,184.4"/>
<polyline points="637.3,178.3 635.1,181.6 630.6,181.3 628.1,184.4"/>
<polyline points="641.8,201.8 637.5,198.4 632.4,196.0 628.4,191.9"/>
<polyline points="752.6,291.0 752.4,290.4 753.0,286.2 755.1,282.0"/>
<polyline points="745.8,292.5 742.6,291.9 736.6,293.3"/>
<polyline points="755.1,282.0 748.3,281.8 743.1,277.7 737.2,274.6"/>
<polyline points="737.2,274.6 736.1,279.5 732.0,282.0 728.7,285.3"/>
<polyline points="736.6,293.3 732.6,292.0 732.9,286.6 728.7,285.3"/>
<polyline points="735.2,303.9 736.9,300.6 738.2,297.2 736.6,293.3"/>
<polyline points="736.2,263.2 736.3,263.8 735.1,264.7 732.4,264.0"/>
<polyline points="732.4,264.0 733.7,267.6 735.2,271.2 737.2,274.6"/>
<polyline points="762.7,275.9 762.9,277.9"/>
<polyline points="762.9,277.9 760.1,278.7 757.5,280.2 755.1,282.0"/>
<polyline points="723.4,284.0 725.4,283.6 726.7,285.8 728.7,285.3"/>
<polyline points="732.4,264.0 725.3,264.3 719.2,259.9 712.0,259.8"/>
<polyline points="714.4,287.7 715.3,291.1 711.0,293.2 712.3,296.7"/>
<polyline points="770.8,289.5 770.5,289.3 770.1,281.5"/>
<polyline points="777.7,282.2 775.2,283.5 770.1,281.5"/>
<polyline points="762.9,277.9 765.7,278.2 768.7,278.2 770.1,281.5"/>
<polyline points="720.0,335.0 722.8,333.1 725.9,335.6 728.8,334.7"/>
<polyline points="720.0,335.0 717.2,331.2 711.1,332.3 708.5,327.7"/>
<polyline points="719.9,314.1 715.1,314.8 711.2,318.3 706.1,318.7"/>
<polyline points="708.5,327.7 706.2,325.1 704.8,322.3 706.1,318.7"/>
<polyline points="720.0,335.0 717.6,339.0 718.6,343.9 716.6,348.1"/>
<polyline points="714.5,349.2 715.2,348.8 715.0,346.7 716.6,348.1"/>
<polyline points="698.1,343.6 697.7,340.5 697.9,337.0 694.8,334.8"/>
<polyline points="708.5,327.7 703.7,329.5 699.9,333.2 694.8,334.8"/>
<polyline points="710.7,298.2 706.4,296.5 702.0,297.0 697.5,297.3"/>
<polyline points="706.1,318.7 703.1,316.3 698.9,315.6 696.4,312.2"/>
<polyline points="697.5,297.3 697.8,302.3 698.7,307.3 696.4,312.2"/>
<polyline points="694.8,334.8 694.5,333.1 692.9,333.4 691.8,332.7"/>
<polyline points="691.8,332.7 693.2,326.1 692.2,319.5 691.5,312.7"/>
<polyline points="696.4,312.2 695.0,314.3 693.4,314.2 691.5,312.7"/>
<polyline points="684.9,263.2 686.3,268.9 682.8,274.7 685.2,280.6"/>
<polyline points="701.2,279.2 696.8,281.9 692.0,281.8 686.9,281.8"/>
<polyline points="685.2,280.6 686.0,280.6 686.1,281.7 686.9,281.8"/>
<polyline points="662.6,265.1 667.1,268.3 667.8,273.8 670.3,278.4"/>
<polyline points="662.6,265.1 664.4,260.4 670.5,259.2 671.7,253.8"/>
<polyline points="685.2,280.6 680.2,280.6 675.1,280.8 670.3,278.4"/>
<polyline points="697.5,297.3 695.9,296.4 694.1,295.8 693.3,293.9"/>
<polyline points="686.9,281.8 688.0,286.3 690.5,290.1 693.3,293.9"/>
<polyline points="716.6,348.1 722.6,351.1 726.7,352.7"/>
<polyline points="732.0,250.3 728.6,247.8 723.7,247.5 721.5,243.0"/>
<polyline points="732.0,250.3 735.3,249.9 737.9,248.5 739.4,245.3"/>
<polyline points="721.5,243.0 720.7,239.1 725.5,237.9 725.5,237.1"/>
<polyline points="739.4,245.3 739.4,240.9 737.9,237.3"/>
<polyline points="736.2,259.2 736.8,256.6 735.6,253.1 732.0,250.3"/>
<polyline points="707.7,244.6 712.1,242.8 716.6,241.5 721.5,243.0"/>
<polyline points="751.5,249.5 750.3,248.5 744.1,248.8 739.4,245.3"/>
<polyline points="633.9,356.3 635.8,354.9 637.8,353.7 640.1,353.1"/>
<polyline points="634.1,339.0 636.1,342.4 639.6,345.0 640.0,349.5"/>
<polyline points="640.1,353.1 638.0,352.0 641.7,350.7 640.0,349.5"/>
<polyline points="655.2,369.5 656.1,368.8 654.3,365.8"/>
<polyline points="640.1,353.1 643.4,358.8 650.3,360.5 654.3,365.8"/>
<polyline points="677.3,372.0 671.9,370.8 669.4,365.1 664.2,363.3"/>
<polyline points="654.3,365.8 657.5,364.8 660.2,361.9 664.2,363.3"/>
<polyline points="686.0,353.6 683.0,345.6 677.1,338.9 674.7,330.3"/>
<polyline points="686.0,353.6 679.9,351.4 674.0,348.7 667.2,349.2"/>
<polyline points="667.2,349.2 667.9,347.8 667.8,347.3 666.2,348.3"/>
<polyline points="666.2,348.3 662.2,345.7 663.7,340.4 660.6,337.2"/>
<polyline points="674.7,330.3 670.0,332.5 664.9,333.9 660.6,337.2"/>
<polyline points="688.7,354.8 688.0,353.9 687.8,351.9 686.0,353.6"/>
<polyline points="677.2,327.0 682.9,326.6 686.5,331.7 691.8,332.7"/>
<polyline points="677.2,327.0 674.8,327.0 675.6,329.3 674.7,330.3"/>
<polyline points="664.2,363.3 666.9,359.0 668.6,354.5 667.2,349.2"/>
<polyline points="640.0,349.5 648.7,351.6 657.4,350.3 666.2,348.3"/>
<polyline points="652.7,332.1 654.0,335.8 658.8,334.1 660.6,337.2"/>
<polyline points="651.2,262.1 648.0,265.8 644.2,269.0 641.0,273.0"/>
<polyline points="651.2,262.1 647.6,257.6 642.8,254.1 640.4,248.4"/>
<polyline points="640.4,248.4 636.7,253.1 633.1,257.8 627.4,260.6"/>
<polyline points="641.0,273.0 637.9,267.3 630.4,266.6 627.4,260.6"/>
<polyline points="662.6,265.1 658.4,265.6 655.3,262.3 651.2,262.1"/>
<polyline points="647.3,282.5 652.2,285.8 658.4,282.2 663.4,285.6"/>
<polyline points="642.3,278.8 642.3,276.8 642.2,274.8 641.0,273.0"/>
<polyline points="670.3,278.4 668.7,281.4 665.9,283.3 663.4,285.6"/>
<polyline points="639.9,245.6 641.8,246.2 638.0,247.9 640.4,248.4"/>
<polyline points="623.6,261.1 627.4,260.6"/>
<polyline points="686.9,311.7 684.5,306.7 682.0,301.8 677.7,297.9"/>
<polyline points="686.9,311.7 681.2,311.8 676.0,313.2 671.0,316.3"/>
<polyline points="662.7,311.2 665.6,312.6 669.1,313.1 671.0,316.3"/>
<polyline points="662.7,311.2 665.1,305.9 666.1,300.0 668.9,294.7"/>
<polyline points="668.9,294.7 672.6,293.6 675.2,295.3 677.7,297.9"/>
<polyline points="691.5,312.7 689.7,313.8 688.6,311.4 686.9,311.7"/>
<polyline points="693.3,293.9 687.5,292.9 682.8,295.6 677.7,297.9"/>
<polyline points="677.2,327.0 676.5,322.7 671.3,320.9 671.0,316.3"/>
<polyline points="661.3,311.0 661.6,312.8 662.5,308.8 662.7,311.2"/>
<polyline points="663.4,285.6 666.2,288.0 666.6,291.8 668.9,294.7"/>
<polyline points="761.4,353.6 758.9,349.8"/>
<polyline points="758.9,349.8 753.4,349.5 748.0,350.0 742.4,350.7"/>
<polyline points="748.5,359.5 748.3,359.4"/>
<polyline points="743.5,355.2 742.4,350.7"/>
<polyline points="755.4,328.4 755.4,335.7 757.0,342.6 758.9,349.8"/>
<polyline points="734.8,338.1 737.2,342.3 738.7,347.1 742.4,350.7"/>
<polyline points="736.0,353.6 737.4,351.4 741.2,354.0 742.4,350.7"/>
</g>
<polygon points="730.6,368.2 745.9,370.2 751.6,381.6 757.4,391.2 772.7,402.7 782.2,406.5 780.3,414.1 768.8,421.8 757.4,418.0 753.5,406.5 744.0,393.1 736.3,383.5 730.6,374.0" fill="url(#hatch)" stroke="#13200c" stroke-width="0.9"/>
<polygon points="788.0,372.1 797.5,368.2 803.0,366.0 803.0,395.0 793.7,402.7 782.2,402.7 776.5,393.1 780.3,389.3 788.0,385.4" fill="url(#hatch)" stroke="#13200c" stroke-width="0.9"/>
<polygon points="804.9,350.0 822.0,356.0 839.7,362.0 841.6,366.0 839.3,369.2 827.8,373.8 816.3,373.8 807.2,369.2 803.0,360.0" fill="url(#hatch)" stroke="#13200c" stroke-width="0.9"/>
<polygon points="730.6,447.5 750.0,446.0 767.3,446.0 771.1,464.3 742.8,465.1 735.2,456.7" fill="url(#hatch)" stroke="#13200c" stroke-width="0.9"/>
<polygon points="761.2,420.0 781.0,419.0 771.9,426.1 764.2,426.1" fill="url(#hatch)" stroke="#13200c" stroke-width="0.9"/>
<polygon points="623.0,228.8 634.9,229.6 642.6,237.2 650.2,243.4 652.5,250.3 645.6,241.8 636.4,238.8 623.0,237.2" fill="#52a038" stroke="#13200c" stroke-width="0.9"/>
<polygon points="682.2,279.7 695.6,277.8 707.0,279.7 716.6,273.0 714.7,287.4 710.9,294.0 703.3,297.0 691.8,295.0 684.1,290.2" fill="#52a038" stroke="#13200c" stroke-width="0.9"/>
<polygon points="626.8,293.1 638.2,296.0 649.7,301.7 657.4,308.4 655.4,312.2 645.9,311.3 634.4,308.4 626.8,302.7" fill="#52a038" stroke="#13200c" stroke-width="0.9"/>
<polygon points="739.1,316.9 748.7,322.7 756.3,332.2 752.5,336.0 744.9,334.1 741.0,326.5" fill="#52a038" stroke="#13200c" stroke-width="0.9"/>
<polygon points="679.0,370.6 688.7,368.7 688.7,384.0 692.5,403.1 704.0,416.5 715.4,428.0 717.4,440.0 705.0,440.0 690.0,410.0 680.0,390.0 670.0,376.0" fill="#52a038" stroke="#13200c" stroke-width="0.9"/>
<polygon points="709.6,362.5 724.9,360.6 738.2,362.5 747.8,368.2 745.9,374.0 734.4,370.2 728.7,374.0 730.6,383.5 726.8,385.4 719.1,375.9 711.5,368.2" fill="#52a038" stroke="#13200c" stroke-width="0.9"/>
<polygon points="627.0,163.5 677.0,163.5 671.6,171.8 664.0,179.5 661.0,185.6 660.2,194.8 656.3,201.7 651.7,204.7 644.1,204.0 637.2,201.7 636.4,194.8 639.5,185.6 636.4,179.5 634.9,174.1 631.8,169.5 628.8,166.5" fill="#76b1eb" stroke="#2a3a4a" stroke-width="0.6"/>
<polygon points="622.0,170.0 629.0,170.5 633.4,173.5 631.0,176.4 622.0,176.4" fill="#76b1eb" stroke="#2a3a4a" stroke-width="0.6"/>
<polygon points="685.4,188.8 690.0,186.2 702.0,185.6 702.0,191.7 690.0,191.8" fill="#76b1eb" stroke="#2a3a4a" stroke-width="0.6"/>
<polygon points="684.0,250.0 690.0,245.0 694.0,241.0 700.0,239.5 706.0,242.0 710.0,247.0 715.8,249.5 706.0,251.5 695.0,251.5" fill="#76b1eb" stroke="#2a3a4a" stroke-width="0.6"/>
<polygon points="622.0,267.8 631.5,271.0 640.0,275.2 643.1,280.5 648.4,291.0 654.7,297.3 661.0,298.3 664.1,300.4 662.0,306.7 656.8,305.7 650.5,300.4 642.0,296.2 631.5,293.1 622.0,291.0" fill="#76b1eb" stroke="#2a3a4a" stroke-width="0.6"/>
<polygon points="678.4,301.7 684.1,296.0 693.7,296.0 703.3,297.9 707.0,306.5 709.0,316.0 703.3,315.0 693.7,312.2 684.1,310.3 677.4,305.5" fill="#76b1eb" stroke="#2a3a4a" stroke-width="0.6"/>
<polygon points="549.4,303.7 576.7,303.7 583.0,321.5 587.6,328.2 591.5,339.7 593.4,353.1 591.5,370.3 595.3,378.0 603.0,383.7 608.7,387.5 618.8,393.0 608.3,388.8 599.9,384.6 592.5,378.3 587.3,373.0 581.0,361.5 576.7,353.0 570.4,344.6 562.0,336.2 558.0,330.0 562.0,323.6 556.8,317.3" fill="#76b1eb" stroke="#2a3a4a" stroke-width="0.6"/>
<polygon points="606.8,355.0 618.2,353.1 625.9,345.4 631.6,337.8 639.3,334.0 646.9,324.4 654.6,323.5 658.4,330.2 662.2,335.9 666.0,332.0 668.0,339.7 669.6,351.5 679.1,359.1 681.0,364.9 677.2,370.6 679.1,378.5 671.6,378.7 664.7,372.7 657.9,371.0 647.5,369.3 642.4,370.1 634.6,372.7 630.3,377.0 629.3,382.5 625.1,388.8 618.8,393.0 615.4,386.0 612.5,378.0 608.7,366.5" fill="#76b1eb" stroke="#2a3a4a" stroke-width="0.6"/>
<polygon points="622.0,275.2 633.6,279.4 637.8,282.6 641.0,291.0 633.6,288.9 622.0,286.8" fill="url(#hatch)" stroke="#13200c" stroke-width="0.9"/>
<polygon points="625.9,358.8 624.0,353.1 637.4,341.6 646.9,343.5 654.6,351.2 658.4,362.7 656.5,368.4 646.9,366.5 641.2,360.7 633.5,358.8" fill="url(#hatch)" stroke="#13200c" stroke-width="0.9"/>
<g fill="none" stroke="#0b1408" stroke-width="1.0" stroke-linejoin="round">
<polyline points="769.1,454.4 766.2,458.8 758.0,467.6 747.8,474.8"/>
<polyline points="773.4,475.3 769.2,483.6"/>
<polyline points="748.6,476.8 747.8,474.8"/>
<polyline points="739.0,445.7 741.2,453.4 741.3,461.5 744.2,469.3"/>
<polyline points="739.0,445.7 729.1,442.5 721.0,436.3 720.6,436.0"/>
<polyline points="744.2,469.3 732.3,463.8 721.1,457.1 720.2,456.8"/>
<polyline points="744.8,433.1 741.9,436.8 740.0,440.9 739.0,445.7"/>
<polyline points="744.8,433.1 754.9,436.6 762.2,445.2 769.2,447.4"/>
<polyline points="747.8,474.8 747.8,472.2 746.2,470.7 744.2,469.3"/>
<polyline points="739.3,421.8 742.2,427.2 744.8,433.1"/>
<polyline points="864.0,325.5 862.4,326.8 860.0,329.6"/>
<polyline points="864.6,350.5 860.4,348.6"/>
<polyline points="860.0,329.6 858.2,335.9 862.1,342.1 860.4,348.6"/>
<polyline points="853.6,281.0 852.4,278.7"/>
<polyline points="853.6,278.3 852.4,278.7"/>
<polyline points="846.9,273.2 849.0,274.7 850.5,276.9 852.4,278.7"/>
<polyline points="846.9,273.2 846.4,263.6 842.8,254.6 842.7,254.1"/>
<polyline points="824.6,270.3 831.7,273.2 839.5,270.3 846.9,273.2"/>
<polyline points="824.6,270.3 820.6,269.3 821.5,264.0 817.8,262.5"/>
<polyline points="817.8,262.5 816.2,257.6 812.6,253.5 811.4,248.2"/>
<polyline points="813.3,246.3 811.4,248.2"/>
<polyline points="740.5,410.8 740.9,409.7"/>
<polyline points="740.9,409.7 739.2,402.1 736.6,394.9 733.1,387.8"/>
<polyline points="733.1,387.8 727.3,381.5 723.0,379.4"/>
<polyline points="791.4,248.8 788.7,253.1 780.7,257.2"/>
<polyline points="771.4,246.9 773.8,249.1"/>
<polyline points="776.5,251.6 780.7,257.2"/>
<polyline points="811.4,248.2 808.7,246.9"/>
<polyline points="740.9,409.7 744.3,410.2"/>
<polyline points="745.8,410.4 751.1,411.3 761.3,412.2 771.9,409.9"/>
<polyline points="775.9,426.8 775.8,423.9 772.7,411.1"/>
<polyline points="772.7,411.1 773.1,410.2 772.0,410.4 771.9,409.9"/>
<polyline points="746.5,370.2 741.3,362.6 734.3,356.9 730.0,354.3"/>
<polyline points="746.5,370.2 747.3,370.3 748.0,370.7 748.8,370.9"/>
<polyline points="748.8,370.9 750.0,361.3"/>
<polyline points="733.1,387.8 738.1,382.4 742.9,376.9 746.5,370.2"/>
<polyline points="712.5,361.8 712.7,366.6 712.6,367.7"/>
<polyline points="766.8,390.0 769.2,396.4 768.5,403.6 771.9,409.9"/>
<polyline points="766.8,390.0 761.9,382.7 754.2,378.1 748.8,370.9"/>
<polyline points="765.5,293.4 766.3,296.2"/>
<polyline points="762.2,273.9 767.2,270.0 774.2,265.6 782.6,263.2"/>
<polyline points="766.3,296.2 777.4,295.4 788.5,294.4 799.6,291.1"/>
<polyline points="782.6,263.2 786.8,266.9 791.0,270.6 793.1,276.3"/>
<polyline points="799.6,291.1 799.4,285.4 793.3,282.2 793.1,276.3"/>
<polyline points="746.2,257.7 749.5,260.1 755.5,267.0 759.9,273.9"/>
<polyline points="765.7,299.9 757.7,298.8 749.5,299.0 743.4,297.0"/>
<polyline points="765.7,299.9 765.9,298.7 766.7,297.5 766.3,296.2"/>
<polyline points="780.7,257.2 780.6,259.4 781.0,261.5 782.6,263.2"/>
<polyline points="817.8,262.5 809.3,266.4 802.2,272.8 793.1,276.3"/>
<polyline points="742.2,298.8 744.1,306.1 744.1,306.7"/>
<polyline points="805.8,298.4 806.7,302.9 806.8,307.4 806.9,312.1"/>
<polyline points="805.8,298.4 813.0,299.7 820.3,297.5 827.7,299.1"/>
<polyline points="806.9,312.1 815.5,322.8 824.2,333.4 834.9,342.7"/>
<polyline points="834.9,342.7 836.2,333.6 837.8,324.5 838.0,315.0"/>
<polyline points="838.0,315.0 834.3,311.7 832.9,307.2 831.5,302.5"/>
<polyline points="831.5,302.5 828.9,302.9 827.4,302.0 827.7,299.1"/>
<polyline points="824.6,270.3 823.3,280.1 828.9,289.1 827.7,299.1"/>
<polyline points="799.6,291.1 803.4,292.0 802.0,297.3 805.8,298.4"/>
<polyline points="860.0,329.6 852.6,325.0 845.6,319.9 838.0,315.0"/>
<polyline points="860.4,348.6 853.0,348.7 845.6,348.6 838.5,351.9"/>
<polyline points="838.5,351.9 837.3,348.9 838.4,344.9 834.9,342.7"/>
<polyline points="853.6,297.9 848.3,297.7 840.6,303.4 831.5,302.5"/>
<polyline points="772.7,411.1 773.2,412.0 773.9,412.1 774.8,412.1"/>
<polyline points="785.1,417.6 782.7,416.2 774.8,412.1"/>
<polyline points="774.8,412.1 784.3,408.0 794.1,404.7 804.6,403.2"/>
<polyline points="805.7,403.3 804.6,403.2"/>
<polyline points="765.7,299.9 769.6,303.9 771.4,309.0 773.8,313.9"/>
<polyline points="806.9,312.1 806.1,317.4 800.9,319.6 798.4,323.9"/>
<polyline points="798.4,323.9 789.8,321.7 782.9,315.6 773.8,313.9"/>
<polyline points="773.8,313.9 774.2,316.2"/>
<polyline points="774.4,317.4 775.4,323.9 770.7,333.6 770.9,335.2"/>
<polyline points="838.5,351.9 838.7,352.9 836.5,353.5 838.0,354.7"/>
<polyline points="798.4,323.9 801.6,332.6 806.3,340.7 808.2,350.1"/>
<polyline points="808.2,350.1 818.2,350.6 827.9,352.9 838.0,354.7"/>
<polyline points="854.2,373.0 854.2,373.0 845.7,367.7 839.9,359.4"/>
<polyline points="839.9,359.4 840.4,371.2 838.4,382.2"/>
<polyline points="839.9,359.4 837.8,358.5 840.5,355.6 838.0,354.7"/>
<polyline points="777.4,349.3 785.0,354.3 793.5,357.3 802.0,360.9"/>
<polyline points="777.4,349.3 777.0,360.3 776.7,371.4 779.1,382.6"/>
<polyline points="779.1,382.6 785.4,383.2 790.7,386.0 795.4,390.5"/>
<polyline points="795.4,390.5 796.0,381.3 800.0,373.1 803.7,364.7"/>
<polyline points="803.7,364.7 802.3,363.8 800.6,363.1 802.0,360.9"/>
<polyline points="777.2,346.1 777.2,346.1 777.3,346.3"/>
<polyline points="777.3,347.8 777.4,349.3"/>
<polyline points="808.2,350.1 806.4,353.9 804.8,357.7 802.0,360.9"/>
<polyline points="766.8,390.0 771.1,388.1 774.9,385.1 779.1,382.6"/>
<polyline points="804.6,403.2 801.9,398.8 797.4,395.6 795.4,390.5"/>
<polyline points="825.5,390.2 822.5,386.0 811.1,377.2 803.7,364.7"/>
</g>
<polyline points="635.7,177.3 648.4,175.2 661.0,170.0 669.4,163.7" fill="none" stroke="#0e180a" stroke-width="1.05" stroke-linejoin="round"/>
<polyline points="637.8,183.6 652.6,181.5 663.0,179.4" fill="none" stroke="#0e180a" stroke-width="1.05" stroke-linejoin="round"/>
<polyline points="563.6,323.6 569.0,334.5 576.4,340.0 581.8,349.0 585.5,360.0 588.2,362.7" fill="none" stroke="#0e180a" stroke-width="1.05" stroke-linejoin="round"/>
<polyline points="698.8,297.3 703.0,305.7 700.9,314.1" fill="none" stroke="#0e180a" stroke-width="1.05" stroke-linejoin="round"/>
<polyline points="612.0,360.0 622.0,365.0 630.0,372.0" fill="none" stroke="#0e180a" stroke-width="1.05" stroke-linejoin="round"/>
<polyline points="660.0,340.0 668.0,352.0 672.0,368.0" fill="none" stroke="#0e180a" stroke-width="1.05" stroke-linejoin="round"/>
<polyline points="787.0,246.9 786.1,257.2 784.4,271.0 787.0,279.6 792.2,288.2" fill="none" stroke="#0e180a" stroke-width="1.05" stroke-linejoin="round"/>
<polyline points="797.3,262.4 794.8,274.4 796.5,284.8 801.6,296.8 808.5,303.7" fill="none" stroke="#0e180a" stroke-width="1.05" stroke-linejoin="round"/>
<polyline points="798.2,262.4 806.8,258.9 818.8,253.8 825.7,252.9 836.1,253.8 853.3,258.9" fill="none" stroke="#0e180a" stroke-width="1.05" stroke-linejoin="round"/>
<polyline points="806.8,269.3 817.1,265.8 827.5,265.0 837.8,265.8 849.8,267.5 854.1,269.3" fill="none" stroke="#0e180a" stroke-width="1.05" stroke-linejoin="round"/>
<polyline points="805.1,271.8 812.0,274.4 818.8,279.6 824.0,284.8 839.5,286.5 853.3,288.2" fill="none" stroke="#0e180a" stroke-width="1.05" stroke-linejoin="round"/>
<polyline points="818.8,253.8 820.6,262.4 822.3,272.7 818.8,284.8 820.6,291.6" fill="none" stroke="#0e180a" stroke-width="1.05" stroke-linejoin="round"/>
<polyline points="822.3,274.4 830.9,274.4 839.5,277.9 846.4,281.3 842.9,283.0 832.6,281.3 824.0,276.1" fill="none" stroke="#0e180a" stroke-width="1.05" stroke-linejoin="round"/>
<polyline points="806.8,289.9 818.8,288.2 825.7,295.1 827.5,305.4 822.3,315.7 817.1,330.0" fill="none" stroke="#0e180a" stroke-width="1.05" stroke-linejoin="round"/>
<polyline points="822.3,295.1 832.6,293.4 839.5,298.5 836.1,308.8 830.9,319.2 829.2,330.0" fill="none" stroke="#0e180a" stroke-width="1.05" stroke-linejoin="round"/>
<polyline points="839.5,305.4 846.4,305.4 853.3,308.8 860.2,315.7 863.6,322.6" fill="none" stroke="#0e180a" stroke-width="1.05" stroke-linejoin="round"/>
<polyline points="750.0,298.5 760.3,295.1 770.7,289.9 781.0,291.6 789.6,296.8 799.9,302.0 808.5,303.7" fill="none" stroke="#0e180a" stroke-width="1.05" stroke-linejoin="round"/>
<polyline points="775.8,300.2 781.0,307.1 791.3,308.8 801.6,307.1" fill="none" stroke="#0e180a" stroke-width="1.05" stroke-linejoin="round"/>
<polyline points="777.5,310.6 784.4,315.7 789.6,324.3 794.8,330.0" fill="none" stroke="#0e180a" stroke-width="1.05" stroke-linejoin="round"/>
<polyline points="758.6,253.8 767.2,264.1 775.8,272.7 782.7,276.1" fill="none" stroke="#0e180a" stroke-width="1.05" stroke-linejoin="round"/>
<polyline points="767.2,252.0 772.4,260.7 781.0,269.3" fill="none" stroke="#0e180a" stroke-width="1.05" stroke-linejoin="round"/>
<polyline points="793.0,312.3 805.1,317.5 815.4,319.2 822.3,322.6" fill="none" stroke="#0e180a" stroke-width="1.05" stroke-linejoin="round"/>
<polyline points="839.5,286.5 844.7,296.8 846.4,305.4" fill="none" stroke="#0e180a" stroke-width="1.05" stroke-linejoin="round"/>
<polyline points="786.5,320.0 789.9,330.3 796.8,344.1 800.2,354.4 789.9,357.9 783.0,354.4 772.7,352.7" fill="none" stroke="#0e180a" stroke-width="1.05" stroke-linejoin="round"/>
<polyline points="805.4,344.1 812.3,342.4 822.6,344.1 832.9,338.9 839.8,337.2 850.2,333.8 860.5,332.0 867.4,330.3" fill="none" stroke="#0e180a" stroke-width="1.05" stroke-linejoin="round"/>
<polyline points="800.2,354.4 805.4,352.7 805.4,344.1" fill="none" stroke="#0e180a" stroke-width="1.05" stroke-linejoin="round"/>
<polyline points="836.4,337.2 838.1,347.5 836.4,354.4 843.3,357.9 850.2,361.3 858.8,363.0" fill="none" stroke="#0e180a" stroke-width="1.05" stroke-linejoin="round"/>
<polyline points="843.3,338.9 850.2,342.4 857.0,340.7" fill="none" stroke="#0e180a" stroke-width="1.05" stroke-linejoin="round"/>
<polyline points="815.7,320.0 822.6,325.2 826.1,333.8 832.9,338.9" fill="none" stroke="#0e180a" stroke-width="1.05" stroke-linejoin="round"/>
<polyline points="802.0,321.7 812.3,323.4 822.6,325.2" fill="none" stroke="#0e180a" stroke-width="1.05" stroke-linejoin="round"/>
<polyline points="843.3,320.0 846.7,326.9 851.9,332.0 860.5,332.0" fill="none" stroke="#0e180a" stroke-width="1.05" stroke-linejoin="round"/>
<polyline points="857.0,340.7 858.8,349.3 860.5,357.9 862.2,364.8" fill="none" stroke="#0e180a" stroke-width="1.05" stroke-linejoin="round"/>
<polyline points="841.5,368.2 850.2,368.2 860.5,369.9" fill="none" stroke="#0e180a" stroke-width="1.05" stroke-linejoin="round"/>
<polyline points="845.0,359.6 846.7,368.2 850.2,373.4" fill="none" stroke="#0e180a" stroke-width="1.05" stroke-linejoin="round"/>
<polyline points="817.5,376.8 820.9,385.4 824.3,392.3" fill="none" stroke="#0e180a" stroke-width="1.05" stroke-linejoin="round"/>
<polyline points="829.5,373.4 832.9,382.0 836.4,378.5" fill="none" stroke="#0e180a" stroke-width="1.05" stroke-linejoin="round"/>
<polyline points="767.5,330.3 776.1,333.8 784.8,338.9 786.5,344.1 781.3,347.5 771.0,345.8 762.4,347.5" fill="none" stroke="#0e180a" stroke-width="1.05" stroke-linejoin="round"/>
<polyline points="760.7,352.7 771.0,352.7 774.4,359.6 784.8,363.0 789.9,357.9" fill="none" stroke="#0e180a" stroke-width="1.05" stroke-linejoin="round"/>
<polyline points="764.1,363.0 765.8,369.9 767.5,378.5 760.7,380.2 750.3,375.1" fill="none" stroke="#0e180a" stroke-width="1.05" stroke-linejoin="round"/>
<polyline points="774.4,373.4 779.6,371.6 784.8,375.1 789.9,382.0 793.4,392.3" fill="none" stroke="#0e180a" stroke-width="1.05" stroke-linejoin="round"/>
<polyline points="772.7,376.8 774.4,385.4 776.1,395.7 781.3,402.6" fill="none" stroke="#0e180a" stroke-width="1.05" stroke-linejoin="round"/>
<polyline points="740.0,364.8 750.3,364.8 760.7,363.0" fill="none" stroke="#0e180a" stroke-width="1.05" stroke-linejoin="round"/>
<polyline points="700.0,423.1 706.1,424.6 715.3,433.8 719.9,435.3" fill="none" stroke="#0e180a" stroke-width="1.05" stroke-linejoin="round"/>
<polyline points="718.3,435.3 727.5,436.8 736.7,433.8 745.9,429.2 756.6,427.6 764.2,426.1 776.5,424.6" fill="none" stroke="#0e180a" stroke-width="1.05" stroke-linejoin="round"/>
<polyline points="727.5,436.8 729.1,442.9 730.6,447.5 735.2,456.7" fill="none" stroke="#0e180a" stroke-width="1.05" stroke-linejoin="round"/>
<polyline points="736.7,423.1 739.8,429.2 750.5,435.3 758.1,438.3 758.1,433.8 752.0,427.6 747.4,423.1" fill="none" stroke="#0e180a" stroke-width="1.05" stroke-linejoin="round"/>
<polyline points="730.6,447.5 741.3,448.3 752.0,446.0 761.2,446.8 770.3,447.5" fill="none" stroke="#0e180a" stroke-width="1.05" stroke-linejoin="round"/>
<polyline points="718.3,435.3 716.8,442.9 716.1,450.6 722.9,464.3" fill="none" stroke="#0e180a" stroke-width="1.05" stroke-linejoin="round"/>
<polyline points="729.1,455.2 726.0,461.3 724.5,465.9" fill="none" stroke="#0e180a" stroke-width="1.05" stroke-linejoin="round"/>
<polyline points="722.9,464.3 730.6,470.5 739.8,473.5" fill="none" stroke="#0e180a" stroke-width="1.05" stroke-linejoin="round"/>
<polyline points="741.3,465.9 739.8,473.5" fill="none" stroke="#0e180a" stroke-width="1.05" stroke-linejoin="round"/>
<polyline points="742.8,465.9 755.0,465.9 770.3,465.9" fill="none" stroke="#0e180a" stroke-width="1.05" stroke-linejoin="round"/>
<polyline points="761.2,427.6 765.7,435.3 767.3,442.9 770.3,447.5" fill="none" stroke="#0e180a" stroke-width="1.05" stroke-linejoin="round"/>
<polyline points="727.5,436.8 738.2,438.3 748.9,441.4 758.1,442.9 767.3,441.4" fill="none" stroke="#0e180a" stroke-width="1.05" stroke-linejoin="round"/>
</g>
<polygon points="623.0,163.4 701.0,163.4 701.5,222.0 704.0,224.5 707.6,227.6 711.0,227.0 714.0,229.5 717.2,230.5 720.0,230.0 722.0,233.5 724.9,236.3 728.0,234.8 731.0,236.8 734.7,236.5 738.2,236.3 742.0,237.8 745.0,236.5 750.2,237.5 753.6,243.2 755.9,246.6 758.0,244.0 761.6,243.2 765.0,245.5 767.3,246.6 770.7,246.0 774.1,245.5 775.2,251.1 777.5,250.0 779.8,243.8 783.2,246.0 787.7,245.5 790.0,247.7 793.0,248.0 795.7,251.1 798.0,249.0 801.4,247.7 805.0,247.0 808.2,246.0 812.0,245.5 815.0,244.9 819.5,246.0 822.0,245.0 825.2,243.8 830.9,247.2 834.0,249.0 838.9,251.1 845.7,254.5 853.6,255.7 854.6,256.0 854.6,303.5 860.8,316.0 867.0,329.6 868.3,332.0 865.8,349.5 862.0,367.0 859.9,370.3 848.4,378.3 834.7,385.2 821.0,394.4 807.2,403.6 795.7,410.5 784.2,419.6 776.5,427.6 771.9,438.3 769.6,450.6 771.1,462.8 774.2,472.0 774.9,481.2 768.8,485.0 761.2,481.2 753.5,478.9 745.9,477.3 741.3,474.3 733.6,472.8 725.2,468.9 722.2,462.8 718.3,455.2 715.3,443.0 712.2,435.3 706.0,427.8 700.9,420.0 694.0,410.6 688.8,402.0 683.7,391.6 679.1,380.2 671.6,378.7 664.7,372.7 657.9,371.0 647.5,369.3 642.4,370.1 634.6,372.7 630.3,377.0 629.3,382.5 625.1,388.8 618.8,393.0 608.3,388.8 599.9,384.6 592.5,378.3 587.3,373.0 581.0,361.5 576.7,353.0 570.4,344.6 562.0,336.2 553.6,327.8 545.2,318.4 535.8,312.0 531.6,307.9 530.5,303.7 622.4,303.7" fill="none" stroke="#111" stroke-width="0.9"/>
<rect x="416" y="504" width="50" height="19" fill="#fff" opacity="0.35"/>
<g stroke="#333" stroke-width="1.1" fill="none"><polyline points="415.6,503.9 415.6,523"/><polyline points="415.6,512.9 465.6,512.9 465.6,503.9"/><polyline points="456,512.9 456,523"/></g>
<g font-size="7.2" fill="#333"><text x="419.2" y="510.9">200 km</text><text x="419.2" y="519.9">100 mi</text></g>
<defs><filter id="sh" x="-30%" y="-30%" width="160%" height="170%"><feDropShadow dx="0" dy="1" stdDeviation="1.2" flood-color="#000" flood-opacity="0.18"/></filter></defs>
<g filter="url(#sh)" fill="#fff">
<rect x="983.1" y="105.4" width="17.6" height="17" rx="1.5"/>
<rect x="1005.7" y="105.4" width="35.4" height="17" rx="1.5"/>
<rect x="1023.7" y="464.7" width="17.9" height="18.1"/>
<rect x="1023.7" y="487.4" width="17.9" height="36"/>
</g>
<g stroke="#555" fill="none" stroke-width="0.9">
<circle cx="990.7" cy="112.7" r="2.6"/><line x1="992.6" y1="114.6" x2="994.9" y2="117"/>
<line x1="1011" y1="110" x2="1011" y2="118"/>
<line x1="1013" y1="110.4" x2="1018.6" y2="110.4"/><line x1="1013" y1="112.7" x2="1018.6" y2="112.7"/><line x1="1013" y1="115.2" x2="1018.6" y2="115.2"/><line x1="1013" y1="117.6" x2="1018.6" y2="117.6"/>
<polygon points="1032.5,109.6 1036.7,112 1032.5,114.4 1028.3,112"/>
<polyline points="1028.3,113.8 1032.5,116.2 1036.7,113.8"/>
<polyline points="1028.3,115.6 1032.5,118 1036.7,115.6"/>
<polygon points="1032.8,470.8 1036,474 1032.8,477.2 1029.6,474"/>
<line x1="1030" y1="496.5" x2="1035.6" y2="496.5"/><line x1="1032.8" y1="493.7" x2="1032.8" y2="499.3"/>
<line x1="1030" y1="514.5" x2="1035.6" y2="514.5"/>
</g>
<line x1="1023.7" y1="505.1" x2="1041.6" y2="505.1" stroke="#e4e4e4" stroke-width="0.8"/>
</g>
<rect x="406.5" y="96.5" width="644" height="430" fill="none" stroke="#e9e9e9"/>
<rect x="1051" y="0" width="5" height="523" fill="#f2f2f2"/><line x1="1054.5" y1="0" x2="1054.5" y2="523" stroke="#e4e4e4" stroke-width="1"/>
</svg>
</body></html>
